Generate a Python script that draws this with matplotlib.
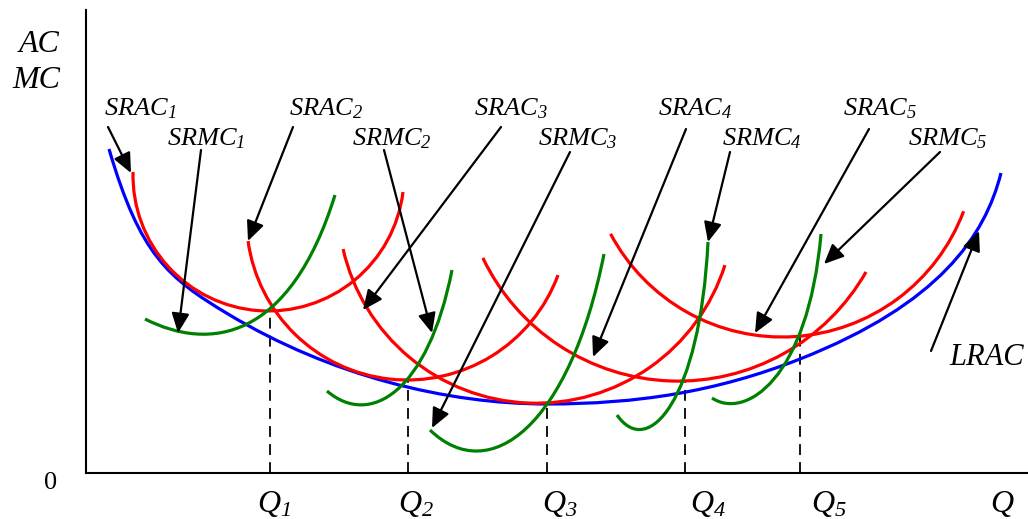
import matplotlib
matplotlib.use('Agg')
import matplotlib.pyplot as plt
from matplotlib.patches import Arc, PathPatch
from matplotlib.path import Path

plt.rcParams['mathtext.fontset'] = 'custom'
plt.rcParams['mathtext.it'] = 'Liberation Serif:italic'
plt.rcParams['mathtext.cal'] = 'Liberation Serif:italic'   # italic digits for subscripts
plt.rcParams['mathtext.rm'] = 'Liberation Serif'
plt.rcParams['font.family'] = 'Liberation Serif'

# chart units: Q and cost measured from the origin of the diagram
q_levels = [184, 322, 461, 599, 714]          # Q1..Q5
q_cost = [162, 93, 69, 92, 139]               # top of the dashed drop lines
q_label_x = [171, 312, 456, 604, 725]

# SRAC curves as circle arcs: centre, radius, start / end angle
srac_cx = [182.5, 321.3, 450.2, 592.1, 696]
srac_cy = [297.5, 253.7, 267.8, 308.2, 330]
srac_r = [135.5, 160.7, 198, 216.3, 194]
srac_t1 = [178.5, 187.8, 192.8, 205.5, 207.9]
srac_t2 = [353, 339.7, 342.4, 330.3, 339.4]

# SRMC curves as cubic bezier control points
srmc_x = [[59, 124, 204, 249], [241, 284, 342, 366], [344, 404, 484, 518],
          [531, 562, 614, 622], [626, 659, 722, 735]]
srmc_y = [[154, 121, 133, 278], [82, 45, 81, 203], [43, -15, 48, 219],
          [58, 13, 73, 231], [75, 53, 93, 239]]

# LRAC as a chain of cubic bezier segments
lrac_x = [23, 54, 82, 142, 245, 361, 461, 551, 630, 714, 853.5, 899, 915]
lrac_y = [324, 218, 195, 159, 97, 69, 69, 69, 81, 114, 169, 237, 300]

# curve labels and their pointer arrows (tail -> tip)
srac_label_x = [18, 203, 388, 572, 757]
srmc_label_x = [81, 266, 452, 636, 822]
srac_tail = [(22, 346), (207, 346), (415, 346), (600, 344), (783, 344)]
srac_tip = [(45, 300), (162, 232), (277, 163), (507, 116), (669, 140)]
srmc_tail = [(115, 323), (298, 323), (484, 321), (644, 321), (854, 321)]
srmc_tip = [(92, 140), (346, 140), (346, 45), (622, 231), (738, 209)]
lrac_tail, lrac_tip = (845, 122), (893, 242)


def sub(name, k):
    return r'$\mathit{%s}_{\mathcal{%d}}$' % (name, k)


W, H = 1028, 519
fig = plt.figure(figsize=(W / 100, H / 100), dpi=100)
ax = fig.add_axes([86 / W, 46 / H, 942 / W, 463 / H])
ax.set_xlim(0, 942)
ax.set_ylim(0, 463)
ax.spines['top'].set_visible(False)
ax.spines['right'].set_visible(False)
for s in ('left', 'bottom'):
    ax.spines[s].set_linewidth(1.5)
ax.set_xticks([])
ax.set_yticks([])

# LRAC
codes = [Path.MOVETO] + [Path.CURVE4] * (len(lrac_x) - 1)
ax.add_patch(PathPatch(Path(list(zip(lrac_x, lrac_y)), codes), facecolor='none',
                       edgecolor='#0000FF', lw=2.3, zorder=2))

# SRAC
for cx, cy, r, t1, t2 in zip(srac_cx, srac_cy, srac_r, srac_t1, srac_t2):
    ax.add_patch(Arc((cx, cy), 2 * r, 2 * r, theta1=t1, theta2=t2,
                     color='#FF0000', lw=2.3, zorder=3))

# SRMC
for xs, ys in zip(srmc_x, srmc_y):
    path = Path(list(zip(xs, ys)), [Path.MOVETO, Path.CURVE4, Path.CURVE4, Path.CURVE4])
    ax.add_patch(PathPatch(path, facecolor='none', edgecolor='#008000', lw=2.3,
                           zorder=4, clip_on=False))

# dashed drop lines
for q, c in zip(q_levels, q_cost):
    ax.plot([q, q], [0, c], color='black', lw=1.3, ls=(0, (6, 4)), zorder=1)

# arrows
arrow = dict(arrowstyle='-|>,head_length=0.6,head_width=0.27', color='black',
             lw=1.6, shrinkA=0, shrinkB=0, mutation_scale=20)
for tail, tip in zip(srac_tail + srmc_tail + [lrac_tail],
                     srac_tip + srmc_tip + [lrac_tip]):
    ax.annotate('', xy=tip, xytext=tail, arrowprops=arrow, zorder=6,
                annotation_clip=False)

# labels
for i, x in enumerate(srac_label_x):
    ax.text(x, 358, sub('SRAC', i + 1), fontsize=19, ha='left', va='baseline')
for i, x in enumerate(srmc_label_x):
    ax.text(x, 328, sub('SRMC', i + 1), fontsize=19, ha='left', va='baseline')
for i, x in enumerate(q_label_x):
    ax.text(x, -39, sub('Q', i + 1), fontsize=23, ha='left', va='baseline', clip_on=False)
ax.text(904, -39, 'Q', fontsize=23, style='italic', ha='left', va='baseline')
ax.text(-35, -16, '0', fontsize=19, ha='center', va='baseline')
ax.text(-26, 421, 'AC', fontsize=23, style='italic', ha='right', va='baseline')
ax.text(-26, 385, 'MC', fontsize=23, style='italic', ha='right', va='baseline')
ax.text(863, 108, 'LRAC', fontsize=22, style='italic', ha='left', va='baseline')

fig.savefig('out.png', dpi=100)
